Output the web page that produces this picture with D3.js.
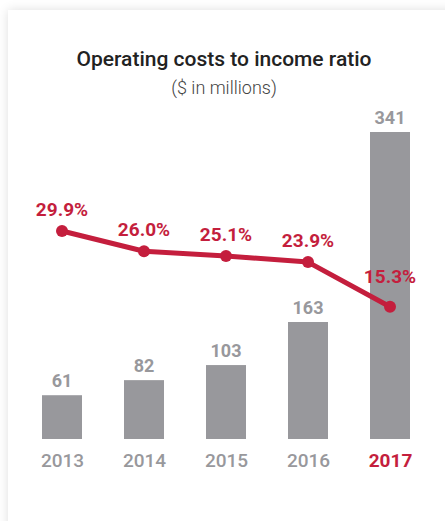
<!DOCTYPE html>
<html>
<head>
<meta charset="utf-8">
<script src="https://cdn.jsdelivr.net/npm/d3@7"></script>
<style>
  html, body { margin: 0; padding: 0; background: #ffffff; overflow: hidden; width: 445px; height: 521px; }
  #card { position: absolute; left: 8px; top: 10px; width: 470px; height: 560px; background: #fff;
          box-shadow: 0 0 10px rgba(0,0,0,0.13); }
  svg { position: absolute; left: 0; top: 0; }
  text { font-family: Roboto, "Noto Sans", sans-serif; }
</style>
</head>
<body>
<div id="card"></div>
<script>
const years = ["2013", "2014", "2015", "2016", "2017"];
const costs = [61, 82, 103, 163, 341];
const ratios = [29.9, 26.0, 25.1, 23.9, 15.3];
const ratioLabels = ["29.9%", "26.0%", "25.1%", "23.9%", "15.3%"];
const titleText = "Operating costs to income ratio";
const subtitleText = "($ in millions)";
const highlightYear = "2017";

const W = 445, H = 521;
const grey = "#98989c", red = "#c41e3d";

const svg = d3.select("body").append("svg").attr("width", W).attr("height", H);

const x = d3.scalePoint().domain(years).range([62, 390]);
const barW = 40;
// bar scale (the source chart draws the last bar taller than linear)
const yBar = d3.scaleLinear().domain([0, 163, 341]).range([439, 322, 132]);
const yLine = d3.scaleLinear().domain([15.3, 29.9]).range([306.7, 231]);

svg.append("text").attr("x", 224).attr("y", 66).attr("text-anchor", "middle")
  .attr("font-size", 21).attr("font-weight", 500).attr("fill", "#222").text(titleText);
svg.append("text").attr("x", 224).attr("y", 94).attr("text-anchor", "middle")
  .attr("font-size", 18).attr("font-weight", 300).attr("fill", "#444").text(subtitleText);

const data = years.map((y, i) => ({ year: y, cost: costs[i], ratio: ratios[i], label: ratioLabels[i] }));

svg.selectAll("rect.bar").data(data).enter().append("rect")
  .attr("class", "bar")
  .attr("x", d => x(d.year) - barW / 2)
  .attr("width", barW)
  .attr("y", d => yBar(d.cost))
  .attr("height", d => yBar(0) - yBar(d.cost))
  .attr("fill", grey);

svg.selectAll("text.val").data(data).enter().append("text")
  .attr("class", "val")
  .attr("x", d => x(d.year))
  .attr("y", d => yBar(d.cost) - 8)
  .attr("text-anchor", "middle")
  .attr("font-size", 18).attr("font-weight", 700).attr("fill", grey)
  .text(d => d.cost);

// x axis labels
const xAxis = d3.axisBottom(x).tickSize(0).tickPadding(0);
const gx = svg.append("g").attr("transform", "translate(0,453)").call(xAxis);
gx.select(".domain").remove();
gx.selectAll("text")
  .attr("dy", "0.74em")
  .attr("font-size", 19)
  .attr("font-family", "Roboto, sans-serif")
  .attr("font-weight", d => d === highlightYear ? 700 : 500)
  .attr("fill", d => d === highlightYear ? red : grey);

const line = d3.line().x(d => x(d.year)).y(d => yLine(d.ratio));
svg.append("path").datum(data).attr("d", line)
  .attr("fill", "none").attr("stroke", red).attr("stroke-width", 5)
  .attr("stroke-linejoin", "round");

svg.selectAll("circle.pt").data(data).enter().append("circle")
  .attr("class", "pt")
  .attr("cx", d => x(d.year)).attr("cy", d => yLine(d.ratio)).attr("r", 6)
  .attr("fill", red);

svg.selectAll("text.pct").data(data).enter().append("text")
  .attr("class", "pct")
  .attr("x", d => x(d.year))
  .attr("y", (d, i) => yLine(d.ratio) - (i === data.length - 1 ? 24 : 15))
  .attr("text-anchor", "middle")
  .attr("font-size", 19).attr("font-weight", 700).attr("fill", red)
  .text(d => d.label);
</script>
</body>
</html>
